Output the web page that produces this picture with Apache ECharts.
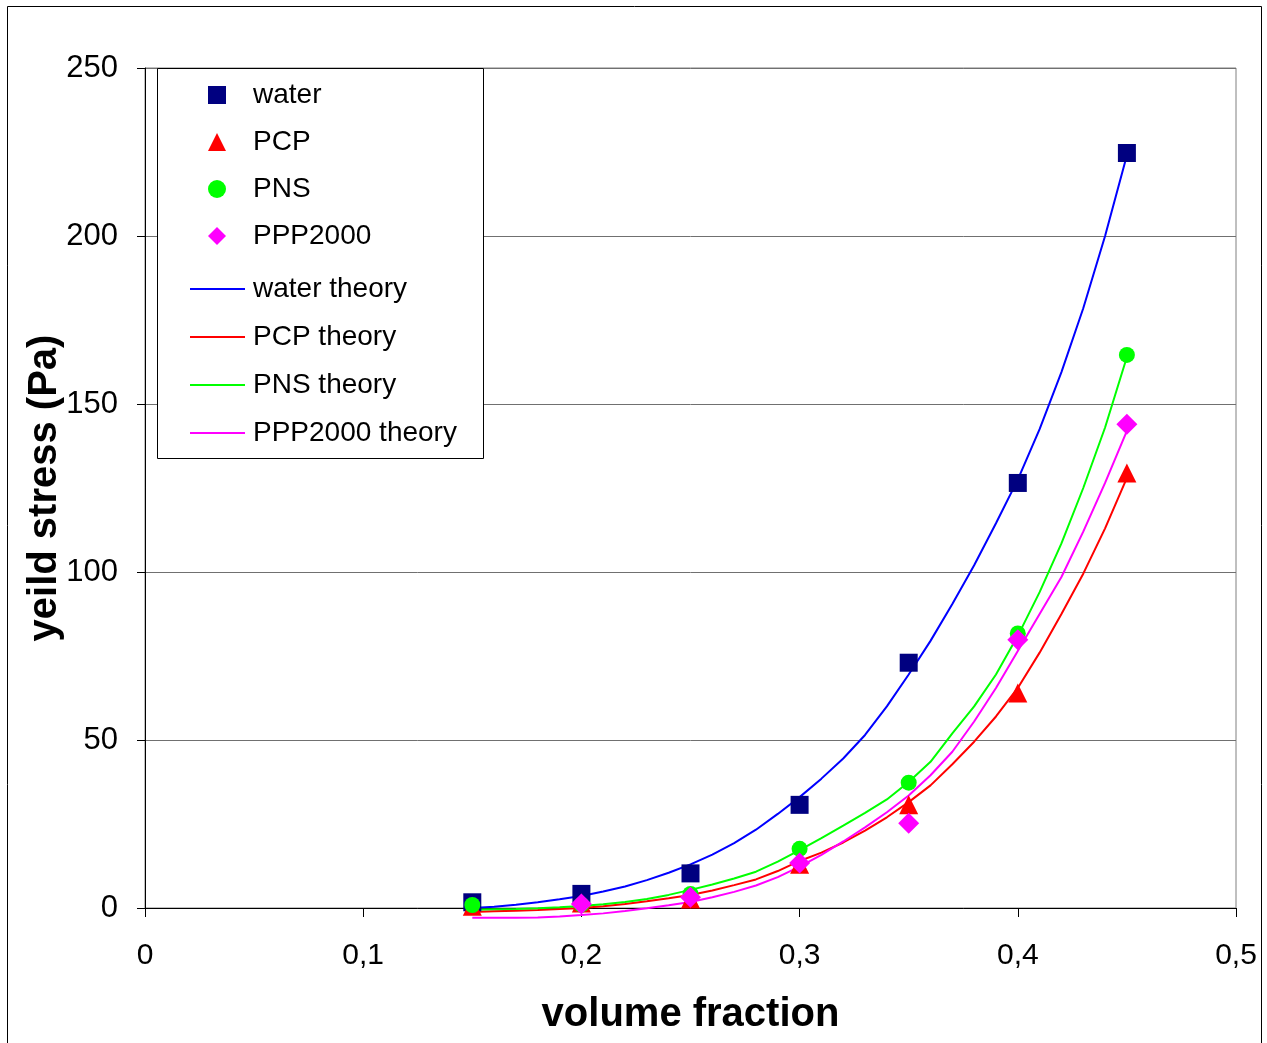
<!DOCTYPE html>
<html>
<head>
<meta charset="utf-8">
<script src="https://cdn.jsdelivr.net/npm/echarts@6/dist/echarts.min.js"></script>
<style>
  html, body { margin: 0; padding: 0; background: #ffffff; }
  #chart { width: 1267px; height: 1043px; }
</style>
</head>
<body>
<div id="chart"></div>
<script>
// Measured yield stress (Pa) against solids volume fraction
const measuredFraction = [0.15, 0.20, 0.25, 0.30, 0.35, 0.40, 0.45];
const waterMeasured   = [1.7, 4.2, 10.3, 30.7, 73.0, 126.5, 224.7];
const pcpMeasured     = [0.5, 1.5, 2.7, 13.0, 30.7, 64.0, 129.5];
const pnsMeasured     = [0.9, 1.0, 4.2, 17.6, 37.3, 81.7, 164.6];
const pppMeasured     = [null, 1.2, 3.2, 13.4, 25.2, 79.8, 144.0];

// Model curves, sampled every 0.01 in volume fraction
const theoryFraction = [0.15, 0.16, 0.17, 0.18, 0.19, 0.20, 0.21, 0.22, 0.23, 0.24,
                        0.25, 0.26, 0.27, 0.28, 0.29, 0.30, 0.31, 0.32, 0.33, 0.34,
                        0.35, 0.36, 0.37, 0.38, 0.39, 0.40, 0.41, 0.42, 0.43, 0.44, 0.45];
const waterTheory = [0.0, 0.4, 1.0, 1.7, 2.6, 3.6, 4.9, 6.4, 8.3, 10.5,
                     13.0, 15.9, 19.3, 23.3, 28.0, 33.0, 38.5, 44.5, 51.5, 60.0,
                     69.5, 79.5, 90.5, 102.0, 114.5, 127.5, 142.5, 159.5, 178.5, 200.0, 224.0];
const pcpTheory   = [-1.2, -1.0, -0.8, -0.6, -0.3, 0.0, 0.5, 1.2, 2.0, 2.9,
                     3.9, 5.2, 6.8, 8.5, 11.0, 14.0, 16.5, 19.5, 23.0, 27.0,
                     31.5, 36.5, 42.8, 49.5, 57.0, 65.5, 76.0, 87.5, 99.5, 113.0, 128.0];
const pnsTheory   = [-0.5, -0.4, -0.3, -0.1, 0.2, 0.6, 1.1, 1.8, 2.7, 3.9,
                     5.4, 7.0, 8.8, 10.8, 13.8, 17.2, 20.8, 24.5, 28.3, 32.3,
                     37.5, 43.5, 52.0, 60.0, 69.5, 81.0, 94.0, 108.5, 125.0, 143.0, 164.0];
const pppTheory   = [-2.9, -2.9, -2.9, -2.8, -2.5, -2.1, -1.6, -0.9, -0.1, 0.8,
                     1.8, 3.2, 4.8, 6.7, 9.2, 12.3, 15.8, 19.8, 24.0, 28.5,
                     33.5, 39.5, 46.5, 55.5, 65.5, 76.5, 87.5, 98.5, 112.0, 126.5, 142.0];

const xTicks = { min: 0, max: 0.5, interval: 0.1 };
const yTicks = { min: 0, max: 250, interval: 50 };

const pairs = (xs, ys) => xs.map((x, i) => [x, ys[i]]).filter(p => p[1] !== null);

const FONT = '"Liberation Sans", Arial, sans-serif';

const markerSeries = [
  { name: 'water',   data: pairs(measuredFraction, waterMeasured), symbol: 'rect',     size: 18, color: '#000080' },
  { name: 'PCP',     data: pairs(measuredFraction, pcpMeasured),   symbol: 'triangle', size: 19, color: '#ff0000' },
  { name: 'PNS',     data: pairs(measuredFraction, pnsMeasured),   symbol: 'circle',   size: 16, color: '#00ff00' },
  { name: 'PPP2000', data: pairs(measuredFraction, pppMeasured),   symbol: 'diamond',  size: 21, color: '#ff00ff' }
];
const curveSeries = [
  { name: 'water theory',   data: pairs(theoryFraction, waterTheory), color: '#0000ff' },
  { name: 'PCP theory',     data: pairs(theoryFraction, pcpTheory),   color: '#ff0000' },
  { name: 'PNS theory',     data: pairs(theoryFraction, pnsTheory),   color: '#00ff00' },
  { name: 'PPP2000 theory', data: pairs(theoryFraction, pppTheory),   color: '#ff00ff' }
];

const series = [];
curveSeries.forEach(c => series.push({
  type: 'line', name: c.name, data: c.data, symbol: 'none', smooth: false, clip: false,
  lineStyle: { color: c.color, width: 2 }, itemStyle: { color: c.color }, z: 2
}));
markerSeries.forEach(m => series.push({
  type: 'scatter', name: m.name, data: m.data, symbol: m.symbol, symbolSize: m.size,
  itemStyle: { color: m.color, opacity: 1 }, z: 3
}));

const legendText = (shift) => ({ color: '#000', fontSize: 28, fontFamily: FONT, lineHeight: 28, padding: [0, 0, 0, shift] });

const chart = echarts.init(document.getElementById('chart'), null, { renderer: 'canvas' });
chart.setOption({
  animation: false,
  backgroundColor: '#ffffff',
  grid: { left: 145, right: 31, top: 68, bottom: 135, show: true, borderColor: '#808080', borderWidth: 1 },
  xAxis: {
    type: 'value', min: xTicks.min, max: xTicks.max, interval: xTicks.interval,
    name: 'volume fraction', nameLocation: 'middle', nameGap: 87, nameMoveOverlap: false,
    nameTextStyle: { color: '#000', fontSize: 40, fontWeight: 'bold', fontFamily: FONT },
    axisLine: { show: true, lineStyle: { color: '#000', width: 1 } },
    axisTick: { show: true, length: 9, lineStyle: { color: '#000' } },
    axisLabel: { color: '#000', fontSize: 30, fontFamily: FONT, margin: 33,
      formatter: v => String(Math.round(v * 10) / 10).replace('.', ',') },
    splitLine: { show: false }
  },
  yAxis: {
    type: 'value', min: yTicks.min, max: yTicks.max, interval: yTicks.interval,
    name: 'yeild stress (Pa)', nameLocation: 'middle', nameGap: 80, nameMoveOverlap: false,
    nameTextStyle: { color: '#000', fontSize: 40, fontWeight: 'bold', fontFamily: FONT },
    axisLine: { show: true, lineStyle: { color: '#000', width: 1 } },
    axisTick: { show: true, length: 8, lineStyle: { color: '#000' } },
    axisLabel: { color: '#000', fontSize: 31, fontFamily: FONT, margin: 27 },
    splitLine: { show: true, lineStyle: { color: '#707070', width: 1 } }
  },
  legend: [
    {
      data: markerSeries.map(m => m.name), orient: 'vertical', left: 208, top: 81, padding: 0,
      itemWidth: 18, itemHeight: 18, itemGap: 19, selectedMode: false, symbolKeepAspect: true,
      textStyle: legendText(22), z: 5
    },
    {
      data: curveSeries.map(c => ({ name: c.name, icon: 'rect', itemStyle: { color: c.color } })),
      orient: 'vertical', left: 190, top: 275, padding: 0,
      itemWidth: 55, itemHeight: 2, itemGap: 20, selectedMode: false, symbolKeepAspect: false,
      textStyle: legendText(3), z: 5
    }
  ],
  graphic: [
    { type: 'rect', z: 0, silent: true, shape: { x: 7.5, y: 6.5, width: 1254, height: 1045 },
      style: { fill: 'none', stroke: '#000', lineWidth: 1 } },
    { type: 'rect', z: 4, silent: true, shape: { x: 157.5, y: 68.5, width: 326, height: 390 },
      style: { fill: '#fff', stroke: '#000', lineWidth: 1 } }
  ],
  series: series
});
</script>
</body>
</html>
